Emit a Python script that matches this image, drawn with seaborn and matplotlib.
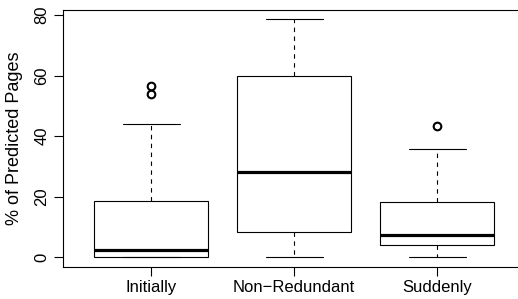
import matplotlib
matplotlib.use("Agg")
import matplotlib.pyplot as plt
import seaborn as sns
import pandas as pd

# values read off the reference boxes (each summary value repeated so the
# quartiles land exactly on the read values)
groups = ["Initially", "Non\u2212Redundant", "Suddenly"]
initially = [0, 0, 0, 0, 2.5, 2.5, 2.5, 18.75, 18.75, 18.75, 43.9, 53.9, 56.5]
non_redundant = [0, 8.55, 28.1, 59.8, 78.5]
suddenly = [0, 4.2, 4.2, 7.4, 7.4, 18.4, 18.4, 35.7, 43.3]
y_ticks = [0, 20, 40, 60, 80]

df = pd.DataFrame({
    "group": [groups[0]] * len(initially) + [groups[1]] * len(non_redundant) + [groups[2]] * len(suddenly),
    "pct": initially + non_redundant + suddenly,
})

sns.set_style("ticks")
plt.rcParams["font.family"] = ["Liberation Sans", "DejaVu Sans"]

fig = plt.figure(figsize=(5.18, 2.99), dpi=100)
ax = fig.add_axes([0.121, 0.107, 0.894, 0.86])

sns.boxplot(
    data=df, x="group", y="pct", order=groups, ax=ax,
    width=0.8, color="white", linecolor="black", linewidth=0.8, whis=1.5,
    medianprops={"linewidth": 2.3, "color": "black"},
    whiskerprops={"linestyle": (0, (4, 4)), "linewidth": 0.8},
    capprops={"linewidth": 0.8},
    flierprops={"marker": "o", "markersize": 5.5, "markerfacecolor": "none",
                "markeredgecolor": "black", "markeredgewidth": 1.5},
)

ax.set_xlim(-0.62, 2.62)
ax.set_ylim(-3.14, 81.64)
ax.set_yticks(y_ticks)
ax.set_xlabel("")
ax.set_ylabel("% of Predicted Pages", fontsize=13, labelpad=8, color="black")
ax.tick_params(axis="both", length=6.5, width=0.8, pad=3, labelsize=12, colors="black")
plt.setp(ax.get_yticklabels(), rotation=90, va="center")
for s in ax.spines.values():
    s.set_visible(True)
    s.set_linewidth(0.8)
    s.set_color("black")

fig.savefig("out.png", dpi=100)
